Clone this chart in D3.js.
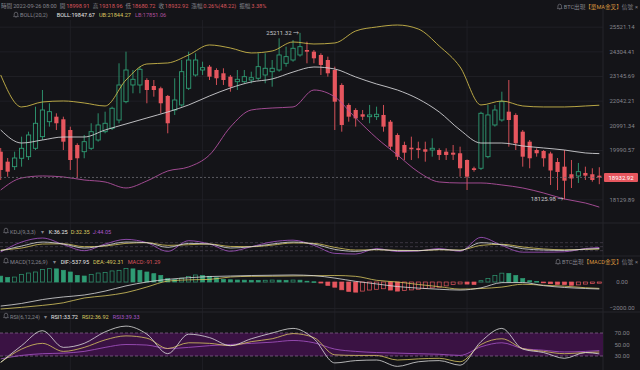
<!DOCTYPE html>
<html>
<head>
<meta charset="utf-8">
<script src="https://cdn.jsdelivr.net/npm/d3@7"></script>
<style>
body { margin: 0; background: #141418; }
svg { display: block; font-family: Roboto, "Noto Sans CJK TC", sans-serif; }
</style>
</head>
<body>
<svg id="chart" width="640" height="370"></svg>
<script>
// ---- candle data (4h BTC) ----
var opens  = [19923,19533,19341,19665,19727,20058,20525,21143,21354,21244,20798,20190,19923,20058,20390,20729,20868,21214,21998,22738,22738,22964,22693,22590,22249,21639,21856,22590,23193,23423,23578,23423,23271,23115,22887,22887,22964,23042,23193,23345,23423,23736,23892,24131,24370,24289,24131,23892,23423,22738,21856,21639,21456,21354,21354,21427,21143,20594,20190,20082,20058,20018,19990,19990,19923,19884,19861,19598,19279,19279,19727,21006,21214,21567,21427,20729,20322,19990,19951,19853,19521,19341,19052,18988,19101,19052,18998.91];
var highs  = [20070,19676,19923,20525,20729,21782,22513,21929,21498,21354,20935,20258,20594,21077,21498,21567,21782,23736,24289,23423,23578,23042,22964,22661,22293,23042,23892,24289,24212,23812,23657,23503,23503,23193,23423,23423,23345,24212,24212,23892,24940,24531,24857,25211.32,24774,24370,24212,24051,23578,22815,21929,21713,21639,21856,21782,21856,21214,20663,20322,20525,20322,20322,20458,20058,20058,20190,20122,19620,19341,21567,21856,21856,22438,22964,21498,20798,20390,20058,19990,19923,19676,19990,19598,19483,19341,19279,19318.96];
var lows   = [18837,18961,19214,19341,19598,19990,20390,20937,20798,19990,19214,18901,19665,19990,20322,20663,20798,21077,21929,22367,22367,21929,22218,21498,20663,21427,21782,22513,23115,23193,22964,22738,22738,22438,22513,22815,22815,22964,22815,22661,23345,23578,23812,24051,23736,23736,23193,23115,20798,20729,21143,20937,21214,21077,21214,20729,19990,19598,19598,19598,19665,19533,19727,19598,19598,19598,18961,18467,19150,19214,19665,20937,21143,20122,19990,19341,19279,19727,19341,18652,18467,18125.98,18541,18726,18837,18774,18680.72];
var closes = [19214,19150,19676,20058,20594,21077,21639,21567,21077,20322,19598,19665,20322,20729,21006,21077,21713,22738,23423,22996,23456,22513,22513,21929,21077,22072,23345,23892,23892,23531,23115,23042,22964,22661,22996,23115,23069,23578,23503,23503,24131,24051,24453,24531,24289,23972,23657,23271,21998,21006,21354,21282,21354,21427,21456,20937,20122,19727,19884,20018,19990,19923,20058,19794,19794,19806,19279,18961,19214,21498,21427,21639,21998,21214,20258,19727,19665,19861,19665,19195,19139,18811,18894,19150,19000,18837,18932.92];

// indicator lines sampled at these candle indices
var lineIdx   = [0,3,6,9,12,15,18,21,24,27,30,33,36,39,42,45,48,51,54,57,60,63,66,69,72,75,78,81,84,86];
var bollUpper = [23193,21769,21985,22029,21942,21812,22964,23704,23751,24131,24614,24467,24227,24322,24760,24662,24711,25305,25506,25606,25405,24565,23563,21856,22029,21812,21769,21769,21812,21844.27];
var bollMid   = [20798,20268,20390,20512,20512,20798,21048,21299,21554,21856,22249,22603,22874,23010,23329,23563,23469,23102,22783,22513,22116,21554,20798,20268,20268,20150,20070,19990,19873,19847.67];
var bollLower = [18467,18912,18988,18950,18837,18763,18541,18800,19176,19330,19794,20922,21639,21724,21769,22513,22205,21299,20471,19794,19139,18763,18726,18726,18652,18541,18358,18141,17997,17851.06];

var kdjK = [20,55,85,70,40,60,85,80,45,75,70,40,50,70,85,70,30,15,30,20,20,30,22,80,65,35,25,22,32,36.25];
var kdjD = [25,40,70,72,50,55,75,80,60,65,70,52,50,62,78,75,45,25,27,23,21,27,25,60,68,48,33,27,30,32.35];
var kdjJ = [10,85,115,66,20,70,105,80,15,95,70,16,50,86,99,60,0,-5,36,14,18,36,16,120,59,9,9,12,36,44.05];

var macdHist = [450,350,380,590,690,770,950,1025,1010,900,770,510,460,590,690,720,850,900,1030,1010,900,770,640,510,260,180,300,420,540,500,440,330,200,170,150,140,130,125,135,150,140,130,150,140,60,20,-80,-260,-400,-600,-720,-780,-700,-620,-560,-520,-620,-700,-660,-610,-560,-510,-450,-400,-300,-200,-150,-160,-190,100,260,510,680,660,500,260,100,50,-60,-130,-180,-200,-250,-220,-160,-120,-91.29];
var macdDif  = [-1850,-1650,-1350,-1150,-1000,-700,-300,0,200,330,420,460,500,520,540,490,300,50,-150,-350,-470,-560,-620,-450,-50,-40,-280,-420,-500,-537.95];
var macdDea  = [-2080,-1950,-1800,-1600,-1230,-1060,-815,-385,70,165,200,385,435,445,465,480,500,435,130,0,-190,-360,-545,-500,-390,-170,-250,-320,-440,-492.31];

var rsi1 = [19,48,74,45,52,72,82,68,34,68,62,48,60,70,78,60,18,22,23,12,20,22,14,55,78,42,36,26,36,33.72];
var rsi2 = [19,42,52,38,45,58,65,61,43,53,52,48,55,60,69,62,32,31,31,23,25,26,20,50,60,43,38,34,36,36.92];
var rsi3 = [25,31,34,35,38,45,50,49,43,45,48,50,52,54,57,53,42,38,36,35,34,33,31,46,53,43,40,37,38,39.33];

var priceTicks = [25521.14,24304.41,23145.69,22042.21,20991.34,19990.57,18129.89];
var macdTicks = [0,-2000];
var rsiTicks = [70,50,30];
var kdjLevels = [80,50,20];
var gridIdx = [10,29,48,67];

// ---- colours ----
var BG = "#141418", GRID = "#222228", TXT = "#85858d";
var UP = "#2f9c74", DOWN = "#e6565e";
var C_UB = "#c9b54a", C_MID = "#cfcfd2", C_LB = "#b0509e";
var C_W = "#dcdcdc", C_Y = "#d9c860", C_P = "#a855c8";

var svg = d3.select("#chart");
svg.append("rect").attr("width", 640).attr("height", 370).attr("fill", BG);

var plotW = 603;
var x = d3.scaleLinear().domain([0, opens.length - 1]).range([0.7, 599.3]);
var yP = d3.scaleLog().domain([18129.89, 25521.14]).range([199.3, 26.7]);
var yK = d3.scaleLinear().domain([20, 80]).range([250.7, 242.7]);
var yM = d3.scaleLinear().domain([-2000, 0]).range([308, 282]);
var yR = d3.scaleLinear().domain([30, 70]).range([356, 333]);

// ---- grid ----
var grid = svg.append("g");
grid.selectAll("line.v").data(gridIdx).enter().append("line")
    .attr("x1", function (d) { return x(d); }).attr("x2", function (d) { return x(d); })
    .attr("y1", 20).attr("y2", 370).attr("stroke", GRID).attr("stroke-width", 0.8);
grid.append("g").attr("transform", "translate(" + plotW + ",0)")
    .call(d3.axisLeft(yP).tickValues(priceTicks).tickSize(plotW).tickFormat(""))
    .call(function (g) { g.select(".domain").remove(); })
    .selectAll("line").attr("stroke", GRID).attr("stroke-width", 0.8);
grid.append("g").attr("transform", "translate(" + plotW + ",0)")
    .call(d3.axisLeft(yM).tickValues(macdTicks).tickSize(plotW).tickFormat(""))
    .call(function (g) { g.select(".domain").remove(); })
    .selectAll("line").attr("stroke", GRID).attr("stroke-width", 0.8);
[223, 256, 312].forEach(function (yy) {
    grid.append("line").attr("x1", 0).attr("x2", 640).attr("y1", yy).attr("y2", yy)
        .attr("stroke", "#24242a").attr("stroke-width", 1);
});
grid.append("line").attr("x1", plotW).attr("x2", plotW).attr("y1", 0).attr("y2", 370)
    .attr("stroke", "#24242a").attr("stroke-width", 1);

// ---- right axes ----
function rightAxis(scale, ticks, fmt) {
    var g = svg.append("g").attr("transform", "translate(622,0)")
        .call(d3.axisRight(scale).tickValues(ticks).tickSize(0).tickFormat(fmt));
    g.select(".domain").remove();
    g.selectAll("text").attr("x", 0).attr("text-anchor", "middle")
        .attr("fill", TXT).style("font-size", "6px").style("font-family", "Roboto, sans-serif");
}
rightAxis(yP, priceTicks, d3.format(".2f"));
rightAxis(yM, macdTicks, d3.format(".2f"));
rightAxis(yR, rsiTicks, d3.format(".2f"));

// ---- candles ----
var idx = d3.range(opens.length);
var cg = svg.append("g");
cg.selectAll("line.wick").data(idx).enter().append("line")
    .attr("x1", function (i) { return x(i); }).attr("x2", function (i) { return x(i); })
    .attr("y1", function (i) { return yP(highs[i]); }).attr("y2", function (i) { return yP(lows[i]); })
    .attr("stroke", function (i) { return closes[i] >= opens[i] ? UP : DOWN; }).attr("stroke-width", 0.9);
cg.selectAll("rect.body").data(idx).enter().append("rect")
    .attr("x", function (i) { return x(i) - 2.1; }).attr("width", 4.2)
    .attr("y", function (i) { return yP(Math.max(opens[i], closes[i])); })
    .attr("height", function (i) { return Math.max(1, yP(Math.min(opens[i], closes[i])) - yP(Math.max(opens[i], closes[i]))); })
    .attr("fill", function (i) { return closes[i] >= opens[i] ? BG : DOWN; })
    .attr("stroke", function (i) { return closes[i] >= opens[i] ? UP : "none"; })
    .attr("stroke-width", 0.9);

// ---- bollinger ----
function series(vals) { return lineIdx.map(function (i, k) { return [i, vals[k]]; }); }
function drawLine(vals, ys, color, w) {
    svg.append("path").datum(series(vals))
        .attr("d", d3.line().x(function (d) { return x(d[0]); }).y(function (d) { return ys(d[1]); }).curve(d3.curveMonotoneX))
        .attr("fill", "none").attr("stroke", color).attr("stroke-width", w || 0.9);
}
drawLine(bollUpper, yP, C_UB);
drawLine(bollMid, yP, C_MID);
drawLine(bollLower, yP, C_LB);

// current price
var last = closes[closes.length - 1];
svg.append("line").attr("x1", 0).attr("x2", plotW).attr("y1", yP(last)).attr("y2", yP(last))
    .attr("stroke", "#6c6c72").attr("stroke-width", 0.8).attr("stroke-dasharray", "2,2");
svg.append("rect").attr("x", 604).attr("y", yP(last) - 4.5).attr("width", 34).attr("height", 9)
    .attr("rx", 1).attr("fill", DOWN);
svg.append("text").attr("x", 621).attr("y", yP(last) + 2.2).attr("text-anchor", "middle")
    .attr("fill", "#fff").style("font-size", "6px").text(d3.format(".2f")(last));

// high / low marks
var hi = d3.maxIndex(highs), lo = d3.minIndex(lows);
svg.append("text").attr("x", x(hi) - 1).attr("y", yP(highs[hi]) + 2).attr("text-anchor", "end")
    .attr("fill", "#c8c8cc").style("font-size", "6px").text(d3.format(".2f")(highs[hi]) + " \u2192");
svg.append("text").attr("x", x(lo) - 1).attr("y", yP(lows[lo]) + 2).attr("text-anchor", "end")
    .attr("fill", "#c8c8cc").style("font-size", "6px").text(d3.format(".2f")(lows[lo]) + " \u2192");

// ---- KDJ ----
kdjLevels.forEach(function (v) {
    svg.append("line").attr("x1", 0).attr("x2", plotW).attr("y1", yK(v)).attr("y2", yK(v))
        .attr("stroke", "#4b4452").attr("stroke-width", 0.7).attr("stroke-dasharray", "3,2");
});
drawLine(kdjJ, yK, C_P, 0.8);
drawLine(kdjD, yK, C_Y, 0.8);
drawLine(kdjK, yK, C_W, 0.8);

// ---- MACD ----
svg.append("g").selectAll("rect").data(idx).enter().append("rect")
    .attr("x", function (i) { return x(i) - 2; }).attr("width", 4)
    .attr("y", function (i) { return Math.min(yM(0), yM(macdHist[i])); })
    .attr("height", function (i) { return Math.max(0.8, Math.abs(yM(macdHist[i]) - yM(0))); })
    .attr("fill", function (i) {
        var up = i > 0 && macdHist[i] > macdHist[i - 1];
        return up ? BG : (macdHist[i] >= 0 ? UP : DOWN);
    })
    .attr("stroke", function (i) { return macdHist[i] >= 0 ? UP : DOWN; })
    .attr("stroke-width", 0.7);
drawLine(macdDea, yM, C_Y, 0.8);
drawLine(macdDif, yM, C_W, 0.8);

// ---- RSI ----
svg.append("rect").attr("x", 0).attr("width", plotW).attr("y", yR(70)).attr("height", yR(30) - yR(70))
    .attr("fill", "#3a1243");
[70, 30].forEach(function (v) {
    svg.append("line").attr("x1", 0).attr("x2", plotW).attr("y1", yR(v)).attr("y2", yR(v))
        .attr("stroke", "#8a6a92").attr("stroke-width", 0.7).attr("stroke-dasharray", "3,2");
});
drawLine(rsi3, yR, C_P, 0.8);
drawLine(rsi2, yR, C_Y, 0.8);
drawLine(rsi1, yR, C_W, 0.8);

// ---- header texts ----
function bell(xx, yy) {
    svg.append("path").attr("transform", "translate(" + xx + "," + yy + ")")
        .attr("d", "M-1.8,1 L-1.8,-0.8 Q-1.8,-2.8 0,-2.8 Q1.8,-2.8 1.8,-0.8 L1.8,1 L2.4,1.6 L-2.4,1.6 Z M-0.6,2.2 L0.6,2.2")
        .attr("fill", "none").attr("stroke", TXT).attr("stroke-width", 0.6);
}
// lays the parts one after another: [text, colour, gap after]
function row(yy, x0, parts, size, alignEnd) {
    var g = svg.append("g");
    var t = g.append("text").attr("y", yy).style("font-size", (size || 5.6) + "px");
    var cx = 0;
    parts.forEach(function (p) {
        var s = t.append("tspan").attr("x", cx).attr("fill", p[1]).text(p[0]);
        cx += s.node().getComputedTextLength() + p[2];
    });
    var start = alignEnd ? x0 - cx : x0;
    g.attr("transform", "translate(" + start + ",0)");
    return start;
}
var R = "#d9555c", W2 = "#e8e8e8", GOLD = "#d8953e";
row(8, 1, [["時間", TXT, 1], ["2022-09-26 08:00", TXT, 3], ["開", TXT, 0.8], ["18998.91", R, 3],
           ["高", TXT, 0.8], ["19318.96", R, 3], ["低", TXT, 0.8], ["18680.72", R, 3],
           ["收", TXT, 0.8], ["18932.92", R, 3], ["漲幅", TXT, 0.8], ["0.26%(48.22)", R, 3],
           ["振幅", TXT, 0.8], ["3.38%", R, 0]], 5.6);
bell(16, 15);
row(17, 20, [["BOLL(20,2)", TXT, 9], ["BOLL:19847.67", W2, 4], ["UB:21844.27", C_Y, 4], ["LB:17851.06", C_LB, 0]], 5.6);
var s1 = row(9, 638, [["BTC出現", TXT, 0], ["【單MA金叉】", GOLD, 0], ["信號", TXT, 2], ["×", TXT, 0]], 5.6, true);
bell(s1 - 4, 7);

bell(6, 231);
row(234, 10, [["KDJ(9,3,3)", TXT, 5], ["▾", TXT, 5], ["K:36.25", W2, 3], ["D:32.35", C_Y, 3], ["J:44.05", C_P, 0]], 5.6);
bell(6, 261);
row(264, 10, [["MACD(12,26,9)", TXT, 5], ["▾", TXT, 5], ["DIF:-537.95", W2, 4], ["DEA:-492.31", C_Y, 4], ["MACD:-91.29", R, 0]], 5.6);
var s2 = row(264, 638, [["BTC出現", TXT, 0], ["【MACD金叉】", GOLD, 0], ["信號", TXT, 2], ["×", TXT, 0]], 5.6, true);
bell(s2 - 4, 262);
bell(6, 316);
row(319, 10, [["RSI(6,12,24)", TXT, 4], ["▾", TXT, 4], ["RSI1:33.72", W2, 4], ["RSI2:36.92", C_Y, 4], ["RSI3:39.33", C_P, 0]], 5.6);
</script>
</body>
</html>
